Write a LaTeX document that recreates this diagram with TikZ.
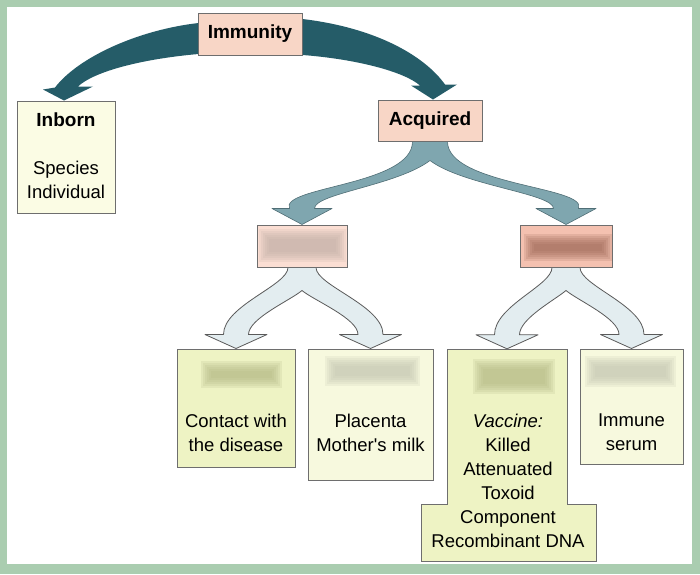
\documentclass[tikz,border=0pt]{standalone}
\usepackage{fontspec}
\setmainfont{Liberation Sans}
\usetikzlibrary{calc}
\definecolor{bggreen}{RGB}{170,205,176}
\definecolor{darkteal}{RGB}{37,92,104}
\definecolor{medteal}{RGB}{127,166,175}
\definecolor{medline}{RGB}{80,110,118}
\definecolor{lightblue}{RGB}{227,237,240}
\definecolor{lightline}{RGB}{90,90,90}
\definecolor{peach}{RGB}{248,214,198}
\definecolor{peachlight}{RGB}{251,222,211}
\definecolor{peachdark}{RGB}{244,193,176}
\definecolor{paleyellow}{RGB}{251,252,228}
\definecolor{limeA}{RGB}{238,243,196}
\definecolor{limeB}{RGB}{247,249,222}
\definecolor{boxline}{RGB}{110,110,110}
\definecolor{blurL}{RGB}{192,173,164}
\definecolor{blurR}{RGB}{153,100,82}
\definecolor{blurA}{RGB}{177,182,130}
\definecolor{blurB}{RGB}{194,196,176}
\pgfdeclarelayer{back}
\pgfdeclarelayer{arrows}
\pgfsetlayers{back,arrows,main}
\newcommand\forkarrow[4]{%
 \path[#4] let \p1=(#1.south), \p2=(#2.north), \p3=(#3.north) in
  (\x1-\fkW,\y1+3pt) -- (\x1-\fkW,\y1)
  .. controls (\x1-\fkW,\y1-\fkA) and (\x2-\fkS-\fkX,\y2+\fkL+\fkB) .. (\x2-\fkS,\y2+\fkL)
  -- (\x2-\fkH,\y2+\fkL) -- (\x2,\y2) -- (\x2+\fkH,\y2+\fkL) -- (\x2+\fkS,\y2+\fkL)
  .. controls (\x2+\fkS,\y2+\fkL+\fkR) and (\x1-\fkP,\y1-\fkD-\fkQ) .. (\x1,\y1-\fkD)
  .. controls (\x1+\fkP,\y1-\fkD-\fkQ) and (\x3-\fkS,\y3+\fkL+\fkR) .. (\x3-\fkS,\y3+\fkL)
  -- (\x3-\fkH,\y3+\fkL) -- (\x3,\y3) -- (\x3+\fkH,\y3+\fkL) -- (\x3+\fkS,\y3+\fkL)
  .. controls (\x3+\fkS+\fkX,\y3+\fkL+\fkB) and (\x1+\fkW,\y1-\fkA) .. (\x1+\fkW,\y1)
  -- (\x1+\fkW,\y1+3pt) -- cycle;}
\newcommand\blurpatch[5]{%
 \foreach \k in {0,...,5}{%
  \fill[#5,opacity=0.18] (#1-4+2*\k,#2-4+2*\k) rectangle (#3+4-2*\k,#4+4-2*\k);}}
\begin{document}
\begin{tikzpicture}[x=1pt,y=-1pt,
  box/.style={draw=boxline, line width=1pt, inner sep=0pt, rectangle},
  lbl/.style={font=\fontsize{18.5}{24}\selectfont, align=center, inner sep=0pt, anchor=north},
  headlbl/.style={font=\bfseries\fontsize{19}{24}\selectfont},
  darkarrow/.style={fill=darkteal},
  medarrow/.style={fill=medteal, draw=medline, line width=0.6pt, line join=round},
  lightarrow/.style={fill=lightblue, draw=lightline, line width=0.8pt, line join=round}]
\useasboundingbox (0,0) rectangle (700,574);
\begin{pgfonlayer}{back}
\fill[bggreen] (0,0) rectangle (700,574);
\fill[white] (7,7) rectangle (692,564);
\end{pgfonlayer}

% boxes
\node[box, headlbl, fill=peach, minimum width=104pt, minimum height=42pt] (imm) at (250,34) {Immunity};
\node[box, fill=paleyellow, minimum width=98pt, minimum height=112pt] (inborn) at (66,157) {};
\node[box, headlbl, fill=peach, minimum width=104pt, minimum height=41pt] (acq) at (430,120.5) {Acquired};
\node[box, fill=peachlight, minimum width=90pt, minimum height=42pt] (midL) at (302,246) {};
\node[box, fill=peachdark, minimum width=92pt, minimum height=42pt] (midR) at (566,246) {};
\node[box, fill=limeA, minimum width=118pt, minimum height=118pt] (b1) at (236,408) {};
\node[box, fill=limeB, minimum width=125pt, minimum height=131pt] (b2) at (370.5,414.5) {};
\filldraw[fill=limeA, draw=boxline, line width=1pt] (447,349) -- (567,349) -- (567,504) -- (596,504) -- (596,561) -- (421,561) -- (421,504) -- (447,504) -- cycle;
\node[inner sep=0pt, minimum width=120pt, minimum height=155pt] (b3) at (507,426.5) {};
\node[box, fill=limeB, minimum width=103pt, minimum height=115pt] (b4) at (631.5,406.5) {};

% blurred labels
\blurpatch{263}{233}{342}{258}{blurL}
\blurpatch{528}{238}{608}{257}{blurR}
\blurpatch{205}{365}{278}{384}{blurA}
\blurpatch{329}{360}{416}{382}{blurB}
\blurpatch{477}{363}{551}{390}{blurA}
\blurpatch{589}{360}{672}{383}{blurB}

% texts
\node[lbl] (tinborn) at (66,112.5) {\textbf{\fontsize{19}{24}\selectfont Inborn}\\[24pt]Species\\Individual};
\node[lbl] (t1) at (236,414) {Contact with\\the disease};
\node[lbl] (t2) at (370.5,414) {Placenta\\Mother\textquotesingle s milk};
\node[lbl] (t3) at (508,414) {\textit{Vaccine:}\\Killed\\Attenuated\\Toxoid\\Component\\Recombinant DNA};
\node[lbl] (t4) at (631.5,414) {Immune\\serum};

% arrows
\begin{pgfonlayer}{arrows}
\path[darkarrow] let \p1=(imm.west), \p2=(inborn.north) in
 (\x1+52pt,\y1+11pt) -- (\x1+1pt,\y1+11pt)
 .. controls (\x1-60pt,\y1+4pt) and (\x2+12pt,\y2+43pt) .. (\x2-11pt,\y2+13pt)
 -- (\x2-23pt,\y2+11pt) -- (\x2-2pt,\y2) -- (\x2+27pt,\y2+14pt) -- (\x2+12pt,\y2+14pt)
 .. controls (\x2+28pt,\y2+29pt) and (\x1-56pt,\y1-25pt) .. (\x1+1pt,\y1-20pt)
 -- (\x1+52pt,\y1-20pt) -- cycle;
\path[darkarrow] let \p1=(imm.east), \p2=(acq.north) in
 (\x1-52pt,\y1+15pt) -- (\x1,\y1+15pt)
 .. controls (\x1+75pt,\y1+6pt) and (\x2-5pt,\y2+43pt) .. (\x2+15pt,\y2+15pt)
 -- (\x2+27pt,\y2+15pt) -- (\x2+3pt,\y2) -- (\x2-19pt,\y2+14pt) -- (\x2-10pt,\y2+14pt)
 .. controls (\x2-26pt,\y2+28pt) and (\x1+53pt,\y1-25pt) .. (\x1,\y1-21pt)
 -- (\x1-52pt,\y1-21pt) -- cycle;
\def\fkW{17.5pt}\def\fkS{12.5pt}\def\fkH{30pt}\def\fkL{16pt}\def\fkD{19pt}
\def\fkA{44pt}\def\fkB{22pt}\def\fkX{10pt}\def\fkP{33pt}\def\fkQ{25pt}\def\fkR{15pt}
\forkarrow{acq}{midL}{midR}{medarrow}
\def\fkW{14pt}\def\fkS{12.5pt}\def\fkH{31pt}\def\fkL{14pt}\def\fkD{23pt}
\def\fkA{18pt}\def\fkB{29pt}\def\fkX{0pt}\def\fkP{12pt}\def\fkQ{10pt}\def\fkR{16pt}
\forkarrow{midL}{b1}{b2}{lightarrow}
\forkarrow{midR}{b3}{b4}{lightarrow}
\end{pgfonlayer}
\end{tikzpicture}
\end{document}
